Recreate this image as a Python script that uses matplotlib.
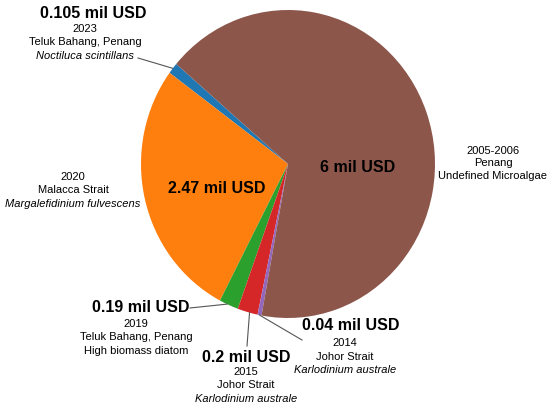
import matplotlib.pyplot as plt
import numpy as np

# values in mil USD
values = [0.105, 2.47, 0.19, 0.2, 0.04, 6]
amount_labels = ["0.105 mil USD", "2.47 mil USD", "0.19 mil USD", "0.2 mil USD", "0.04 mil USD", "6 mil USD"]
years = ["2023", "2020", "2019", "2015", "2014", "2005-2006"]
places = ["Teluk Bahang, Penang", "Malacca Strait", "Teluk Bahang, Penang", "Johor Strait", "Johor Strait", "Penang"]
species = ["Noctiluca scintillans", "Margalefidinium fulvescens", "High biomass diatom",
           "Karlodinium australe", "Karlodinium australe", "Undefined Microalgae"]
species_italic = [True, True, False, True, True, False]
colors = ["#1f77b4", "#ff7f0e", "#2ca02c", "#d62728", "#9467bd", "#8c564b"]

plt.rcParams['font.family'] = ['Liberation Sans', 'DejaVu Sans']

fig = plt.figure(figsize=(5.5, 4.09), dpi=100)
ax = fig.add_axes([0, 0, 1, 1])

wedges, _ = ax.pie(values, colors=colors, startangle=139.5, counterclock=True)

# pie centre / radii in pixels of the reference
cx, cy, rx, ry = 288, 164, 147, 154
ax.set_aspect('auto')
ax.set_xlim(-cx / rx, (550 - cx) / rx)
ax.set_ylim(-(409 - cy) / ry, cy / ry)
ax.axis('off')


def P(px, py):
    return ((px - cx) / rx, (cy - py) / ry)


def edge(i, r=1.0, frac=0.5):
    w = wedges[i]
    a = np.deg2rad(w.theta1 + (w.theta2 - w.theta1) * frac)
    return (r * np.cos(a), r * np.sin(a))


big = dict(fontsize=11.5, fontweight='bold', ha='center', va='center')
small = dict(fontsize=8, ha='center', va='center')
line = dict(color='#555555', lw=0.8)


def small_block(i, px, py, lh=13.5):
    ax.text(*P(px, py), years[i], **small)
    ax.text(*P(px, py + lh), places[i], **small)
    ax.text(*P(px, py + 2 * lh), species[i], style='italic' if species_italic[i] else 'normal', **small)


# 2023
ax.text(*P(93, 14), amount_labels[0], **big)
small_block(0, 85, 29)
ax.plot(*zip(P(138, 58), edge(0)), **line)

# 2020
small_block(1, 73, 177)
ax.text(*P(217, 189), amount_labels[1], **big)

# 2005-2006
small_block(5, 493, 151, lh=12.5)
ax.text(*P(358, 168), amount_labels[5], **big)

# 2019
ax.text(*P(141, 308), amount_labels[2], **big)
small_block(2, 136, 324)
ax.plot(*zip(P(190, 308), edge(2, frac=0.4)), **line)

# 2015
ax.text(*P(246, 357), amount_labels[3], **big)
small_block(3, 246, 372)
ax.plot(*zip(P(247, 346), edge(3, frac=0.6)), **line)

# 2014
ax.text(*P(351, 325), amount_labels[4], **big)
small_block(4, 345, 343)
ax.plot(*zip(P(302, 340), edge(4)), **line)

fig.savefig("out.png", dpi=100)
